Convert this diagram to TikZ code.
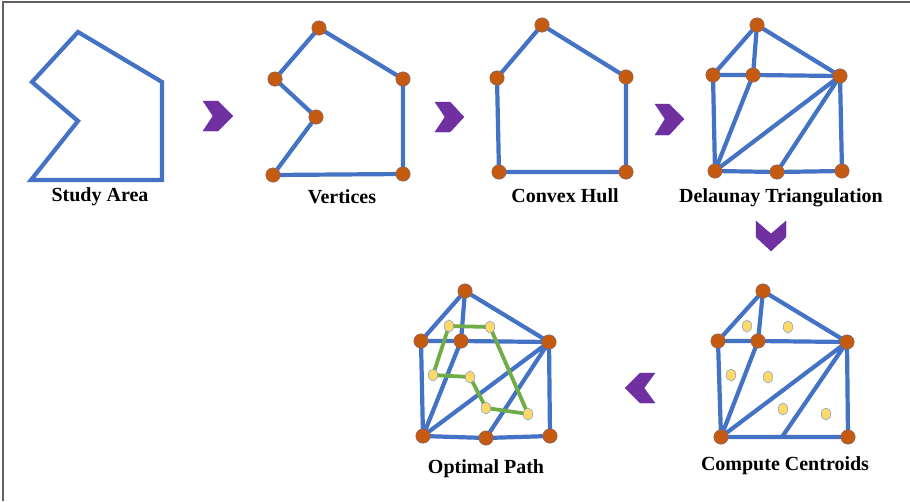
\documentclass[tikz,border=0pt]{standalone}
\usepackage{fontspec}
\setmainfont{Liberation Serif}
\definecolor{edgeblue}{HTML}{4472C4}
\definecolor{vorange}{HTML}{C55A11}
\definecolor{cyellow}{HTML}{FFD966}
\definecolor{pgreen}{HTML}{70AD47}
\definecolor{chev}{HTML}{7030A0}
\definecolor{frame}{HTML}{666066}
\tikzset{
  edge/.style={draw=edgeblue, line width=4.2pt, line cap=round, line join=round},
  pathedge/.style={draw=pgreen, line width=3.8pt, line cap=round, line join=round},
  vdot/.style={circle, fill=vorange, draw=edgeblue!60!vorange, line width=0.4pt, minimum size=14.5pt, inner sep=0pt},
  cdot/.style={ellipse, fill=cyellow, draw=edgeblue!70!white, line width=0.5pt, minimum width=9.5pt, minimum height=12pt, inner sep=0pt},
  chevshape/.style={fill=chev, draw=chev!80!blue, line width=0.3pt},
  lbl/.style={font=\fontsize{20}{22}\selectfont\bfseries, text=black, inner sep=0pt}
}
\usetikzlibrary{shapes.geometric}
\begin{document}
\begin{tikzpicture}[x=1pt,y=-1pt]
\useasboundingbox (0,0) rectangle (910,501);
\fill[white] (0,0) rectangle (910,501);
% frame
\draw[frame, line width=1.5pt] (3,501) -- (3,2) -- (910,2);

% ---------- Panel 1: Study Area
\coordinate (s1) at (78,32);
\coordinate (s2) at (162,82);
\coordinate (s3) at (162,180);
\coordinate (s4) at (31,180);
\coordinate (s5) at (78,121);
\coordinate (s6) at (32,82);
\draw[edge, line join=miter, line cap=butt] (s1) -- (s2) -- (s3) -- (s4) -- (s5) -- (s6) -- cycle;
\node[lbl] (l1) at (100,197) {Study Area};

% ---------- Panel 2: Vertices
\coordinate (v1) at (319,28);
\coordinate (v2) at (403,79);
\coordinate (v3) at (403,174);
\coordinate (v4) at (273,175);
\coordinate (v5) at (316,117);
\coordinate (v6) at (275,79);
\draw[edge] (v1) -- (v2) -- (v3) -- (v4) -- (v5) -- (v6) -- cycle;
\foreach \p in {v1,v2,v3,v4,v5,v6} \node[vdot] (n\p) at (\p) {};
\node[lbl] (l2) at (342,197) {Vertices};

% ---------- Panel 3: Convex Hull
\coordinate (h1) at (542,25);
\coordinate (h2) at (626,77);
\coordinate (h3) at (626,172);
\coordinate (h4) at (499,172);
\coordinate (h5) at (497,78);
\draw[edge] (h1) -- (h2) -- (h3) -- (h4) -- (h5) -- cycle;
\foreach \p in {h1,h2,h3,h4,h5} \node[vdot] (n\p) at (\p) {};
\node[lbl] (l3) at (565,196) {Convex Hull};

% ---------- Panel 4: Delaunay Triangulation
\coordinate (d1) at (757,25);
\coordinate (d2) at (713,75);
\coordinate (d3) at (753,75);
\coordinate (d4) at (840,76);
\coordinate (d5) at (715,171);
\coordinate (d6) at (777,172);
\coordinate (d7) at (842,171);
\draw[edge] (d1) -- (d2) (d1) -- (d3) (d1) -- (d4)
  (d2) -- (d3) -- (d4) (d2) -- (d5) (d3) -- (d5) (d4) -- (d5)
  (d4) -- (d6) (d4) -- (d7) (d5) -- (d6) -- (d7);
\foreach \p in {d1,d2,d3,d4,d5,d6,d7} \node[vdot] (n\p) at (\p) {};
\node[lbl] (l4) at (781,198) {Delaunay Triangulation};

% ---------- Panel 6: Compute Centroids
\coordinate (c1) at (763,291);
\coordinate (c2) at (718,341);
\coordinate (c3) at (758,341);
\coordinate (c4) at (847,342);
\coordinate (c5) at (721,437);
\coordinate (c6) at (782,437);
\coordinate (c7) at (848,437);
\draw[edge] (c1) -- (c2) (c1) -- (c3) (c1) -- (c4)
  (c2) -- (c3) -- (c4) (c2) -- (c5) (c3) -- (c5) (c4) -- (c5)
  (c4) -- (c6) (c4) -- (c7) (c5) -- (c6) -- (c7);
\foreach \p in {c1,c2,c3,c4,c5,c7} \node[vdot] (n\p) at (\p) {};
\node[cdot] (g1) at (747,326) {};
\node[cdot] (g2) at (788,327) {};
\node[cdot] (g3) at (731,375) {};
\node[cdot] (g4) at (768,377) {};
\node[cdot] (g5) at (783,409) {};
\node[cdot] (g6) at (826,414) {};
\node[lbl] (l6) at (785,466) {Compute Centroids};

% ---------- Panel 5: Optimal Path
\coordinate (o1) at (465,291);
\coordinate (o2) at (421,341);
\coordinate (o3) at (461,341);
\coordinate (o4) at (549,342);
\coordinate (o5) at (423,436);
\coordinate (o6) at (486,438);
\coordinate (o7) at (550,436);
\draw[edge] (o1) -- (o2) (o1) -- (o3) (o1) -- (o4)
  (o2) -- (o3) -- (o4) (o2) -- (o5) (o3) -- (o5) (o4) -- (o5)
  (o4) -- (o6) (o4) -- (o7) (o5) -- (o6) -- (o7);
\coordinate (p1) at (449,326);
\coordinate (p2) at (490,327);
\coordinate (p3) at (433,375);
\coordinate (p4) at (470,377);
\coordinate (p5) at (486,408);
\coordinate (p6) at (528,414);
\draw[pathedge] (p1) -- (p2) -- (p6) -- (p5) -- (p4) -- (p3) -- cycle;
\foreach \p in {o1,o2,o3,o4,o5,o6,o7} \node[vdot] (n\p) at (\p) {};
\foreach \p in {p1,p2,p3,p4,p5,p6} \node[cdot] (n\p) at (\p) {};
\node[lbl] (l5) at (486,469) {Optimal Path};

% ---------- chevrons
\fill[chevshape] (203,101) -- (218,101) -- (233,116) -- (218,131) -- (203,131) -- (213,116) -- cycle;
\fill[chevshape] (435,102) -- (450,102) -- (464,117) -- (450,132) -- (435,132) -- (445,117) -- cycle;
\fill[chevshape] (655,104) -- (669,104) -- (684,119) -- (669,135) -- (655,135) -- (665,119) -- cycle;
\fill[chevshape] (756,221) -- (771,234) -- (786,221) -- (786,237) -- (771,251) -- (756,237) -- cycle;
\fill[chevshape] (655,373) -- (640,373) -- (625,388) -- (640,403) -- (655,403) -- (644,388) -- cycle;
\end{tikzpicture}
\end{document}
